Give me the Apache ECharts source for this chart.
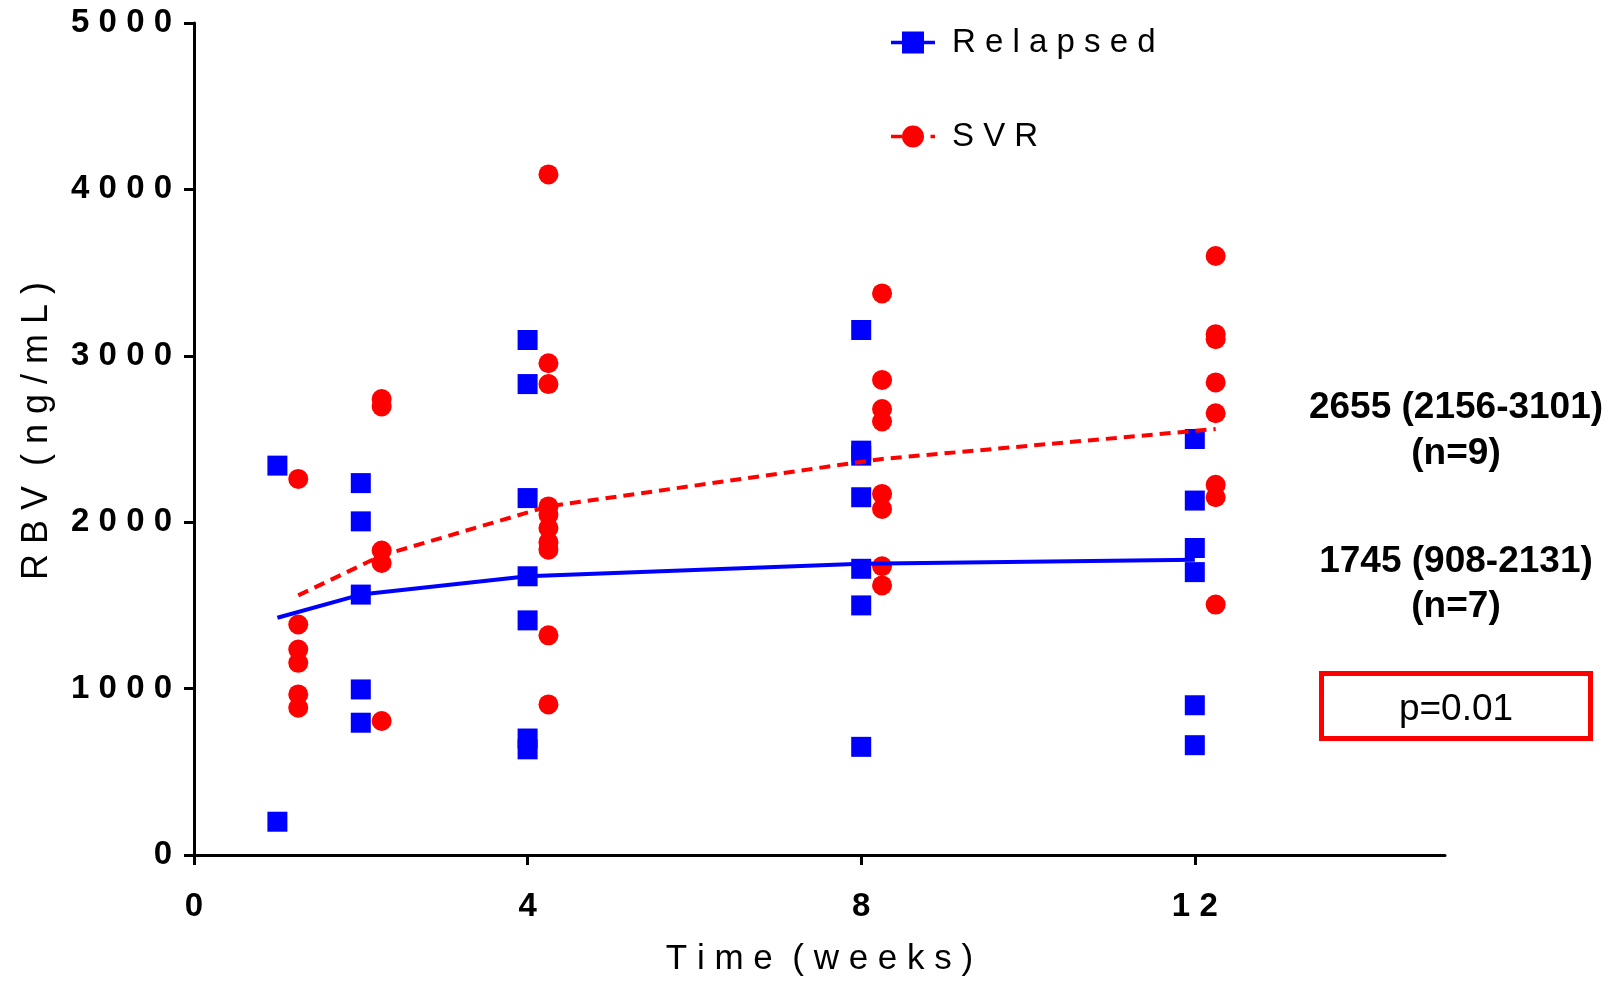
<!DOCTYPE html>
<html>
<head>
<meta charset="utf-8">
<script src="https://cdn.jsdelivr.net/npm/echarts@6/dist/echarts.min.js"></script>
<style>html,body{margin:0;padding:0;background:#fff;}#c{width:1608px;height:982px;}</style>
</head>
<body>
<div id="c"></div>
<script>
// ---- data ----
const xTicks = [0, 4, 8, 12];
const yTicks = [0, 1000, 2000, 3000, 4000, 5000];

// Relapsed (blue squares) per week
const relapsedW1 = [2340, 200];
const relapsedW2 = [2235, 2005, 1565, 995, 795];
const relapsedW4 = [3095, 2830, 2145, 1675, 1410, 700, 635];
const relapsedW8 = [3155, 2430, 2400, 2150, 1720, 1500, 650];
const relapsedW12 = [2500, 2130, 1845, 1700, 900, 660];
const relapsedWeeks = [1, 2, 4, 8, 12];

// SVR (red circles) per week (plotted slightly offset right)
const svrW1 = [2260, 1385, 1235, 1155, 965, 885];
const svrW2 = [2740, 2695, 1830, 1755, 805];
const svrW4 = [4090, 2955, 2830, 2095, 2045, 1965, 1880, 1835, 1320, 905];
const svrW8 = [3375, 2855, 2680, 2605, 2170, 2080, 1735, 1620];
const svrW12 = [3600, 3130, 3100, 2840, 2655, 2225, 2150, 1505];
const svrWeeks = [1.25, 2.25, 4.25, 8.25, 12.25];

// mean lines
const relapsedMean = [1426, 1565, 1675, 1750, 1775];
const svrMean = [1560, 1800, 2095, 2380, 2560];

// ---- build ----
function pts(weeks, groups) {
  const out = [];
  groups.forEach((g, i) => g.forEach(v => out.push([weeks[i], v])));
  return out;
}
const relapsedPts = pts(relapsedWeeks, [relapsedW1, relapsedW2, relapsedW4, relapsedW8, relapsedW12]);
const svrPts = pts(svrWeeks, [svrW1, svrW2, svrW4, svrW8, svrW12]);
const relLine = relapsedWeeks.map((w, i) => [w, relapsedMean[i]]);
const svrLine = svrWeeks.map((w, i) => [w, svrMean[i]]);

const spaced = s => String(s).split('').join(' ');
const FF = 'Liberation Sans';

const relIcon = 'path://M0,9.2H44V12.8H0Z M11,0H33V22H11Z';
const svrIcon = 'path://M0,9.2H11V12.8H0Z M39.5,9.2H44V12.8H39.5Z M33,11A11,11 0 1,1 11,11A11,11 0 1,1 33,11Z';

const chart = echarts.init(document.getElementById('c'), null, {renderer: 'canvas'});
chart.setOption({
  animation: false,
  backgroundColor: '#fff',
  grid: {left: 194, right: 163, top: 23, bottom: 124, containLabel: false},
  legend: {
    orient: 'vertical', left: 886, top: 21, itemWidth: 44, itemHeight: 22, itemGap: 61,
    selectedMode: false,
    data: [{name: 'Relapsed', icon: relIcon, itemStyle: {color: '#0000ff', opacity: 1}},
           {name: 'SVR', icon: svrIcon, itemStyle: {color: '#ff0000', opacity: 1}}],
    formatter: n => spaced(n),
    textStyle: {fontFamily: FF, fontSize: 33, color: '#000', padding: [0, 0, 0, 12]}
  },
  xAxis: {
    type: 'value', min: 0, max: 15,
    name: 'T i m e  ( w e e k s )', nameLocation: 'middle', nameGap: 87,
    nameTextStyle: {fontFamily: FF, fontSize: 35, color: '#000'},
    axisLine: {lineStyle: {color: '#000', width: 3}},
    axisTick: {show: true, length: 10, lineStyle: {color: '#000', width: 3}, customValues: xTicks},
    axisLabel: {customValues: xTicks, formatter: v => spaced(v), fontFamily: FF, fontWeight: 'bold', fontSize: 33, color: '#000', margin: 35},
    splitLine: {show: false}
  },
  yAxis: {
    type: 'value', min: 0, max: 5000, interval: 1000,
    axisLine: {show: true, lineStyle: {color: '#000', width: 3}},
    axisTick: {show: true, length: 10, lineStyle: {color: '#000', width: 3}, customValues: yTicks},
    axisLabel: {customValues: yTicks, formatter: v => spaced(v), fontFamily: FF, fontWeight: 'bold', fontSize: 33, color: '#000', margin: 22},
    splitLine: {show: false}
  },
  series: [
    {name: 'Relapsed', type: 'scatter', data: relapsedPts, symbol: 'rect', symbolSize: 20,
     itemStyle: {color: '#0000ff', opacity: 1}, z: 2},
    {name: 'SVR', type: 'scatter', data: svrPts, symbol: 'circle', symbolSize: 20,
     itemStyle: {color: '#ff0000', opacity: 1}, z: 2},
    {name: 'Relapsed', type: 'line', data: relLine, showSymbol: false, symbol: 'none',
     lineStyle: {color: '#0000ff', width: 4}, z: 3},
    {name: 'SVR', type: 'line', data: svrLine, showSymbol: false, symbol: 'none',
     lineStyle: {color: '#ff0000', width: 4, type: [11, 7]}, z: 3}
  ],
  graphic: [
    {type: 'text', x: 37, y: 431, rotation: Math.PI / 2,
     style: {text: 'R B V  ( n g / m L )', x: 0, y: 0, align: 'center', verticalAlign: 'middle', font: '36px "Liberation Sans"', fill: '#000'}},
    {type: 'text', style: {text: '2655 (2156-3101)', x: 1456, y: 408, align: 'center', verticalAlign: 'middle', font: 'bold 37px "Liberation Sans"', fill: '#000'}},
    {type: 'text', style: {text: '(n=9)', x: 1456, y: 454, align: 'center', verticalAlign: 'middle', font: 'bold 37px "Liberation Sans"', fill: '#000'}},
    {type: 'text', style: {text: '1745 (908-2131)', x: 1456, y: 562, align: 'center', verticalAlign: 'middle', font: 'bold 37px "Liberation Sans"', fill: '#000'}},
    {type: 'text', style: {text: '(n=7)', x: 1456, y: 607, align: 'center', verticalAlign: 'middle', font: 'bold 37px "Liberation Sans"', fill: '#000'}},
    {type: 'rect', shape: {x: 1321.5, y: 673.5, width: 269, height: 65}, style: {fill: 'transparent', stroke: '#ff0000', lineWidth: 5}},
    {type: 'text', style: {text: 'p=0.01', x: 1456, y: 710, align: 'center', verticalAlign: 'middle', font: '37px "Liberation Sans"', fill: '#000'}}
  ]
});
</script>
</body>
</html>
